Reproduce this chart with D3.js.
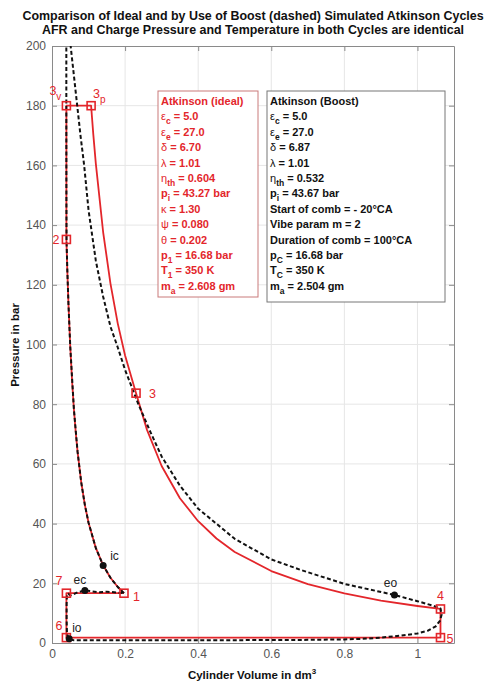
<!DOCTYPE html>
<html><head><meta charset="utf-8">
<script src="https://cdn.jsdelivr.net/npm/d3@7"></script>
<style>body{margin:0;background:#fff}svg{display:block}text{font-family:"Liberation Sans",Arial,sans-serif}</style>
</head><body><svg id="c" width="485" height="683"></svg>
<script>
const titleLines = ["Comparison of Ideal and by Use of Boost (dashed) Simulated Atkinson Cycles",
  "AFR and Charge Pressure and Temperature in both Cycles are identical"];
const xLabel = "Cylinder Volume in dm";
const yLabel = "Pressure in bar";
const xTicks = [0, 0.2, 0.4, 0.6, 0.8, 1];
const yTicks = [0, 20, 40, 60, 80, 100, 120, 140, 160, 180, 200];

// ideal Atkinson cycle [V dm3, p bar]
const idealCycle = [[0.197,16.68],[0.18,18.76],[0.16,21.86],[0.14,26.0],[0.12,31.78],[0.10,40.27],[0.09,46.19],[0.08,53.83],[0.07,64.03],[0.065,70.5],[0.06,78.24],[0.055,87.61],[0.05,99.16],[0.045,113.7],[0.042,124.4],[0.0394,135.2],
  [0.0394,180],[0.107,180],[0.113,170.4],[0.12,160.5],[0.14,137.6],[0.16,120.4],[0.18,107.0],[0.20,96.3],[0.23,83.7],
  [0.26,71.4],[0.3,59.3],[0.35,48.5],[0.4,40.8],[0.45,35.0],[0.5,30.5],[0.6,24.1],[0.7,19.7],[0.8,16.6],[0.9,14.2],[1.0,12.4],[1.063,11.4],
  [1.063,1.8],[0.0394,1.8],[0.0394,16.68],[0.197,16.68]];
const idealPoints = [[0.197,16.68,"1"],[0.0394,135.2,"2"],[0.0394,180,"3v"],[0.107,180,"3p"],[0.23,83.7,"3"],[1.063,11.4,"4"],[1.063,1.8,"5"],[0.0394,1.8,"6"],[0.0394,16.68,"7"]];

// boosted (simulated) cycle [V dm3, p bar]
const boostCycle = [[0.197,16.7],[0.18,18.76],[0.16,21.86],[0.14,26.0],[0.12,31.8],[0.10,40.3],[0.09,46.2],[0.08,53.8],[0.07,64.0],[0.06,78.2],[0.05,99.2],[0.045,113.7],[0.042,124.6],[0.0398,135],[0.0394,150],[0.0392,175],[0.0392,200],[0.0395,225],[0.041,232],[0.044,222],[0.048,208],[0.051,200],[0.06,190],[0.069,180],[0.078,170],[0.088,160],[0.10,145],[0.12,128],[0.14,116],[0.16,106],[0.18,99],[0.20,91.5],[0.235,80.4],[0.27,70.5],[0.3,62.5],[0.35,52.7],[0.4,45.0],[0.5,34.9],[0.6,28.0],[0.68,24.5],[0.8,19.8],[0.937,16.1],[1.0,14.0],[1.04,12.6],[1.063,11.6],[1.066,9.5],[1.062,7.5],[1.05,5.6],[1.03,4.2],[1.0,3.2],[0.95,2.4],[0.9,1.8],[0.85,1.4],[0.8,1.2],[0.7,1.05],[0.5,0.95],[0.3,0.9],[0.1,0.9],[0.06,0.9],[0.047,1.2],[0.041,3],[0.040,8],[0.040,13],[0.041,16.2],[0.045,16.5],[0.05,15.9],[0.058,16.3],[0.07,17.0],[0.09,17.6],[0.11,17.3],[0.13,17.0],[0.15,17.2],[0.17,17.0],[0.185,16.8],[0.197,16.7]];
const boostPoints = [[0.14,26.0,"ic"],[0.09,17.6,"ec"],[0.047,1.4,"io"],[0.937,16.1,"eo"]];

// legend box texts: segments [text, kind] kind: b=bold, g=greek, s=subscript
const idealText = [
  [["Atkinson (ideal)","b"]],
  [["ε","g"],["c","s"],[" = 5.0","b"]],
  [["ε","g"],["e","s"],[" = 27.0","b"]],
  [["δ","g"],[" = 6.70","b"]],
  [["λ","g"],[" = 1.01","b"]],
  [["η","g"],["th","s"],[" = 0.604","b"]],
  [["p","b"],["i","s"],[" = 43.27 bar","b"]],
  [["κ","g"],[" = 1.30","b"]],
  [["ψ","g"],[" = 0.080","b"]],
  [["θ","g"],[" = 0.202","b"]],
  [["p","b"],["1","s"],[" = 16.68 bar","b"]],
  [["T","b"],["1","s"],[" = 350 K","b"]],
  [["m","b"],["a","s"],[" = 2.608 gm","b"]]];
const boostText = [
  [["Atkinson (Boost)","b"]],
  [["ε","g"],["c","s"],[" = 5.0","b"]],
  [["ε","g"],["e","s"],[" = 27.0","b"]],
  [["δ","g"],[" = 6.87","b"]],
  [["λ","g"],[" = 1.01","b"]],
  [["η","g"],["th","s"],[" = 0.532","b"]],
  [["p","b"],["i","s"],[" = 43.67 bar","b"]],
  [["Start of comb = - 20°CA","b"]],
  [["Vibe param m = 2","b"]],
  [["Duration of comb = 100°CA","b"]],
  [["p","b"],["C","s"],[" = 16.68 bar","b"]],
  [["T","b"],["C","s"],[" = 350 K","b"]],
  [["m","b"],["a","s"],[" = 2.504 gm","b"]]];

const RED = "#e3262b";
const svg = d3.select("#c");
const L = 52, R = 454, T = 46, B = 643;
const x = d3.scaleLinear().domain([0, 1.1]).range([L, R]);
const y = d3.scaleLinear().domain([0, 200]).range([B, T]);

// title
const tg = svg.append("g");
titleLines.forEach((t, i) => {
  tg.append("text").attr("x", 253).attr("y", 20 + i * 14).attr("text-anchor", "middle")
    .attr("font-weight", "bold").attr("font-size", 12).attr("fill", "#111").text(t);
});
const w0 = tg.select("text").node().getComputedTextLength();
tg.selectAll("text").attr("font-size", 12 * 462 / w0);

// grid
svg.append("g").selectAll("line").data(xTicks.filter(d => d > 0)).join("line")
  .attr("x1", d => x(d)).attr("x2", d => x(d)).attr("y1", T).attr("y2", B)
  .attr("stroke", "#e6e6e6").attr("stroke-width", 1);
svg.append("g").selectAll("line").data(yTicks.filter(d => d > 0 && d < 200)).join("line")
  .attr("x1", L).attr("x2", R).attr("y1", d => y(d)).attr("y2", d => y(d))
  .attr("stroke", "#e6e6e6").attr("stroke-width", 1);

// axes
function styleAxis(g) {
  g.selectAll(".domain").attr("stroke", "#8a8a8a");
  g.selectAll(".tick line").attr("stroke", "#8a8a8a");
  g.selectAll(".tick text").attr("fill", "#555").attr("font-size", 12)
    .attr("font-family", '"Liberation Sans",Arial,sans-serif');
}
svg.append("g").attr("transform", `translate(0,${B})`)
  .call(d3.axisBottom(x).tickValues(xTicks).tickFormat(d3.format("~g")).tickSizeInner(-5).tickSizeOuter(0).tickPadding(6)).call(styleAxis);
svg.append("g").attr("transform", `translate(${L},0)`)
  .call(d3.axisLeft(y).tickValues(yTicks).tickSizeInner(-5).tickSizeOuter(0).tickPadding(6)).call(styleAxis);
svg.append("g").attr("transform", `translate(0,${T})`)
  .call(d3.axisTop(x).tickValues(xTicks).tickFormat("").tickSizeInner(-5).tickSizeOuter(0)).call(styleAxis);
svg.append("g").attr("transform", `translate(${R},0)`)
  .call(d3.axisRight(y).tickValues(yTicks).tickFormat("").tickSizeInner(-5).tickSizeOuter(0)).call(styleAxis);

// axis labels
const xl = svg.append("text").attr("x", 252).attr("y", 679).attr("text-anchor", "middle")
  .attr("font-weight", "bold").attr("font-size", 11.5).attr("fill", "#111");
xl.append("tspan").text(xLabel);
xl.append("tspan").attr("dy", -5).attr("font-size", 8).text("3");
svg.append("text").attr("transform", "translate(19,345) rotate(-90)").attr("text-anchor", "middle")
  .attr("font-weight", "bold").attr("font-size", 11.5).attr("fill", "#111").text(yLabel);

// clip
svg.append("clipPath").attr("id", "clip").append("rect").attr("x", L).attr("y", T).attr("width", R - L).attr("height", B - T);
const plot = svg.append("g").attr("clip-path", "url(#clip)");
const line = d3.line().x(d => x(d[0])).y(d => y(d[1]));

plot.append("path").datum(idealCycle).attr("d", line).attr("fill", "none")
  .attr("stroke", RED).attr("stroke-width", 1.8).attr("stroke-linejoin", "round");
plot.append("path").datum(boostCycle).attr("d", line).attr("fill", "none")
  .attr("stroke", "#111").attr("stroke-width", 2).attr("stroke-dasharray", "4,2.5").attr("stroke-linejoin", "round");

// markers
svg.append("g").selectAll("rect").data(idealPoints).join("rect")
  .attr("x", d => x(d[0]) - 4).attr("y", d => y(d[1]) - 4).attr("width", 8).attr("height", 8)
  .attr("fill", "none").attr("stroke", RED).attr("stroke-width", 1.6);
svg.append("g").selectAll("circle").data(boostPoints).join("circle")
  .attr("cx", d => x(d[0])).attr("cy", d => y(d[1])).attr("r", 3.5).attr("fill", "#111");

// point labels
const idealOff = {"1":[9,8,"start"],"2":[-7,5,"end"],"3v":[-17,-11,"start"],"3p":[2,-8,"start"],"3":[13,5,"start"],
  "4":[0,-9,"middle"],"5":[6,5,"start"],"6":[-4,-8,"end"],"7":[-4,-8,"end"]};
idealPoints.forEach(d => {
  const o = idealOff[d[2]];
  const t = svg.append("text").attr("x", x(d[0]) + o[0]).attr("y", y(d[1]) + o[1]).attr("text-anchor", o[2])
    .attr("fill", RED).attr("font-size", 12.5);
  t.append("tspan").text(d[2][0]);
  if (d[2].length > 1) t.append("tspan").attr("dy", 5).attr("font-size", 10).text(d[2].slice(1));
});
const boostOff = {"ic":[7,-5,"start"],"ec":[-5,-6,"middle"],"io":[3,-7,"start"],"eo":[-4,-8,"middle"]};
boostPoints.forEach(d => {
  const o = boostOff[d[2]];
  svg.append("text").attr("x", x(d[0]) + o[0]).attr("y", y(d[1]) + o[1]).attr("text-anchor", o[2])
    .attr("fill", "#222").attr("font-size", 12).text(d[2]);
});

// boxes
function box(lines, bx, by, bw, bh, color, border) {
  const g = svg.append("g");
  g.append("rect").attr("x", bx).attr("y", by).attr("width", bw).attr("height", bh)
    .attr("fill", "#fff").attr("stroke", border).attr("stroke-width", 1);
  lines.forEach((segs, i) => {
    const t = g.append("text").attr("x", bx + 3).attr("y", by + 14 + i * 15.4).attr("fill", color).attr("font-size", 11);
    let sub = false;
    segs.forEach(s => {
      const ts = t.append("tspan").text(s[0]);
      if (s[1] === "s") { ts.attr("dy", 4).attr("font-size", 8.5).attr("font-weight", "bold"); sub = true; }
      else {
        if (sub) { ts.attr("dy", -4); sub = false; }
        ts.attr("font-weight", s[1] === "g" ? "normal" : "bold");
      }
    });
  });
}
box(idealText, 158, 91, 100, 206, RED, "#c97a7a");
box(boostText, 267, 91, 178, 211, "#111", "#777");
</script></body></html>
